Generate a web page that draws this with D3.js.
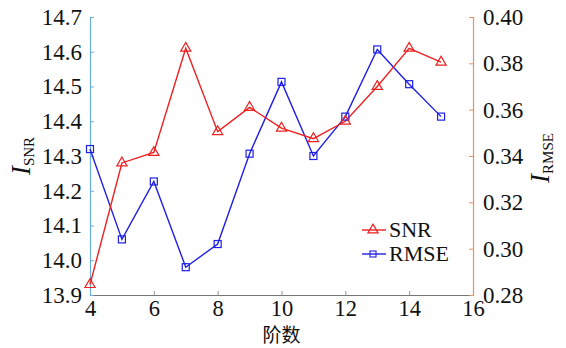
<!DOCTYPE html>
<html><head><meta charset="utf-8">
<script src="https://cdn.jsdelivr.net/npm/d3@7"></script>
<style>body{margin:0;background:#fff;}</style></head>
<body><svg id="c" width="566" height="348"></svg>
<script>
const orders = [4,5,6,7,8,9,10,11,12,13,14,15];
const snr = [13.93,14.28,14.31,14.61,14.37,14.44,14.38,14.35,14.40,14.50,14.61,14.57];
const rmse = [0.343,0.304,0.329,0.292,0.302,0.341,0.372,0.340,0.357,0.386,0.371,0.357];
const xTicks = [4,6,8,10,12,14,16];
const leftTicks = [13.9,14.0,14.1,14.2,14.3,14.4,14.5,14.6,14.7];
const rightTicks = [0.28,0.30,0.32,0.34,0.36,0.38,0.40];

const svg = d3.select("#c");
const L=90,R=473,T=17,B=295;
const x = d3.scaleLinear().domain([4,16]).range([L,R]);
const yL = d3.scaleLinear().domain([13.9,14.7]).range([B,T]);
const yR = d3.scaleLinear().domain([0.28,0.40]).range([B,T]);
const serif = "'Liberation Serif'";

// bottom axis
const xa = svg.append("g").attr("transform",`translate(0,${B})`)
  .call(d3.axisBottom(x).tickValues(xTicks).tickSizeInner(-4).tickSizeOuter(0).tickPadding(5).tickFormat(d3.format("d")));
xa.attr("font-family",null);
xa.select(".domain").attr("stroke","#777").attr("stroke-width",1.2);
xa.selectAll(".tick line").attr("stroke","#999");
xa.selectAll("text").attr("font-size",22.5).attr("fill","#111").style("font-family",serif);

// left axis
const la = svg.append("g").attr("transform",`translate(${L},0)`)
  .call(d3.axisLeft(yL).tickValues(leftTicks).tickSizeInner(-4).tickSizeOuter(-4).tickPadding(8).tickFormat(d3.format(".1f")));
la.attr("font-family",null);
la.select(".domain").attr("stroke","#6aaee0").attr("stroke-width",1.2);
la.selectAll(".tick line").attr("stroke","#6aaee0");
la.selectAll("text").attr("font-size",23).attr("fill","#111").style("font-family",serif);

// right axis
const ra = svg.append("g").attr("transform",`translate(${R},0)`)
  .call(d3.axisRight(yR).tickValues(rightTicks).tickSizeInner(-4).tickSizeOuter(-4).tickPadding(10).tickFormat(d3.format(".2f")));
ra.attr("font-family",null);
ra.select(".domain").attr("stroke","#e8906a").attr("stroke-width",1.2);
ra.selectAll(".tick line").attr("stroke","#e8906a");
ra.selectAll("text").attr("font-size",23).attr("fill","#111").style("font-family",serif);

// lines
const lineL = d3.line().x((d,i)=>x(orders[i])).y(d=>yL(d));
const lineR = d3.line().x((d,i)=>x(orders[i])).y(d=>yR(d));
svg.append("path").attr("d",lineR(rmse)).attr("fill","none").attr("stroke","#1f1fe6").attr("stroke-width",1.4);
svg.append("path").attr("d",lineL(snr)).attr("fill","none").attr("stroke","#ee2020").attr("stroke-width",1.4);

const tri = d3.symbol().type(d3.symbolTriangle).size(45);
svg.selectAll(".sq").data(rmse).enter().append("rect")
  .attr("x",(d,i)=>x(orders[i])-3.5).attr("y",d=>yR(d)-3.5).attr("width",7).attr("height",7)
  .attr("fill","none").attr("stroke","#1f1fe6").attr("stroke-width",1.2);
svg.selectAll(".tr").data(snr).enter().append("path")
  .attr("d",tri).attr("transform",(d,i)=>`translate(${x(orders[i])},${yL(d)})`)
  .attr("fill","none").attr("stroke","#ee2020").attr("stroke-width",1.2);

// legend
const lg = svg.append("g");
lg.append("line").attr("x1",362).attr("x2",386).attr("y1",230).attr("y2",230).attr("stroke","#ee2020").attr("stroke-width",1.4);
lg.append("path").attr("d",tri).attr("transform","translate(373,230)").attr("fill","none").attr("stroke","#ee2020").attr("stroke-width",1.2);
lg.append("text").attr("x",389).attr("y",237).attr("font-size",22).attr("fill","#111").style("font-family",serif).text("SNR");
lg.append("line").attr("x1",362).attr("x2",386).attr("y1",254).attr("y2",254).attr("stroke","#1f1fe6").attr("stroke-width",1.4);
lg.append("rect").attr("x",370).attr("y",251).attr("width",6).attr("height",6).attr("fill","none").attr("stroke","#1f1fe6").attr("stroke-width",1.1);
lg.append("text").attr("x",389).attr("y",261).attr("font-size",22).attr("fill","#111").style("font-family",serif).text("RMSE");

// axis titles
svg.append("text").attr("x",(L+R)/2).attr("y",342).attr("text-anchor","middle")
  .attr("font-size",19).attr("fill","#111").style("font-family","'Noto Sans CJK SC'").text("阶数");
const ly = svg.append("text").attr("transform","translate(30,156) rotate(-90)").attr("text-anchor","middle").attr("fill","#111").style("font-family",serif);
ly.append("tspan").attr("font-size",27).attr("font-style","italic").text("I");
ly.append("tspan").attr("font-size",15).attr("dy",4).text("SNR");
const ry = svg.append("text").attr("transform","translate(549,158) rotate(-90)").attr("text-anchor","middle").attr("fill","#111").style("font-family",serif);
ry.append("tspan").attr("font-size",27).attr("font-style","italic").text("I");
ry.append("tspan").attr("font-size",15).attr("dy",4).text("RMSE");
</script></body></html>
